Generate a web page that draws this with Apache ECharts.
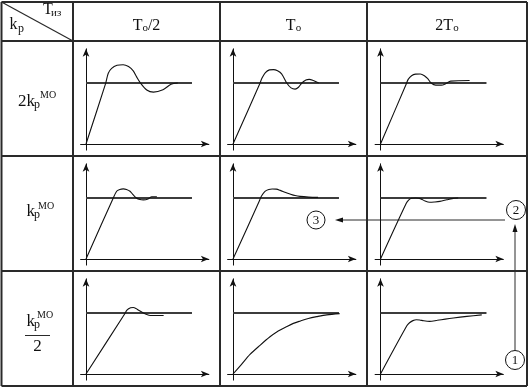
<!DOCTYPE html>
<html><head><meta charset="utf-8">
<script src="https://cdn.jsdelivr.net/npm/echarts@6/dist/echarts.min.js"></script>
<style>html,body{margin:0;padding:0;background:#fff}#c{width:531px;height:389px}</style>
</head><body><div id="c"></div>
<script>
// ---- data ----
const colHeads = [['T', 'о', '/2'], ['T', 'о', ''], ['2T', 'о', '']];
const cornerTop = ['T', 'из'];
const cornerBottom = ['k', 'p'];
const rowCoef = ['2k', 'k', 'k'];
const rowSub = 'p';
const rowSup = 'МО';
const rowDen = '2';
const setpointLevel = 1;
const setpointEnd = 7.85;
const markers = ['1', '2', '3'];

const curve_2k_Th = [[0,0],[1.45,0.99],[1.65,1.16],[1.9,1.24],[2.3,1.29],[2.75,1.3],[3.15,1.27],[3.5,1.2],[3.75,1.1],[4.0,1.01],[4.5,0.885],[5.0,0.85],[5.7,0.89],[6.3,0.98],[6.8,1.0]];
const curve_2k_T  = [[0,0],[1.95,0.97],[2.15,1.08],[2.4,1.17],[2.7,1.215],[3.0,1.22],[3.3,1.2],[3.6,1.15],[3.98,1.0],[4.3,0.92],[4.6,0.9],[4.85,0.93],[5.1,1.0],[5.4,1.05],[5.65,1.06],[5.95,1.04],[6.35,1.0]];
const curve_2k_2T = [[0,0],[1.9,0.98],[2.05,1.06],[2.3,1.12],[2.6,1.145],[2.95,1.148],[3.25,1.12],[3.5,1.07],[3.75,1.0],[4.1,0.965],[4.5,0.965],[4.85,0.99],[5.2,1.03],[6.6,1.04]];
const curve_k_Th  = [[0,0],[1.98,0.98],[2.27,1.11],[2.5,1.14],[2.76,1.15],[3.0,1.14],[3.26,1.11],[3.5,1.05],[3.73,1.0],[4.0,0.975],[4.25,0.97],[4.6,0.985],[4.87,1.02],[5.25,1.02]];
const curve_k_T   = [[0,0],[1.95,0.95],[2.1,1.03],[2.37,1.11],[2.65,1.14],[2.9,1.148],[3.2,1.145],[3.5,1.125],[3.85,1.095],[4.22,1.066],[4.6,1.04],[4.96,1.026],[5.6,1.015],[6.3,1.01]];
const curve_k_2T  = [[0,0],[1.9,0.91],[2.1,0.97],[2.3,0.995],[2.6,1.0],[2.95,0.99],[3.3,0.95],[3.65,0.93],[4.0,0.935],[4.4,0.945],[4.9,0.97],[5.3,0.99],[5.75,1.0]];
const curve_hk_Th = [[0,0],[2.85,0.98],[3.05,1.05],[3.3,1.085],[3.5,1.09],[3.7,1.075],[3.9,1.045],[4.25,1.0],[4.55,0.97],[4.75,0.96],[5.75,0.96]];
const curve_hk_T  = [[0,0],[0.6,0.15],[1.26,0.32],[2.0,0.47],[2.74,0.61],[3.24,0.69],[4.0,0.78],[4.47,0.83],[5.0,0.87],[5.58,0.91],[6.2,0.94],[6.94,0.97],[7.9,0.99]];
const curve_hk_2T = [[0,0],[1.95,0.79],[2.15,0.84],[2.4,0.875],[2.66,0.89],[2.9,0.885],[3.2,0.872],[3.64,0.863],[4.2,0.88],[4.8,0.9],[5.4,0.918],[6.4,0.945],[7.5,0.97]];

// ---- layout ----
const curves = [[curve_2k_Th, curve_2k_T, curve_2k_2T],[curve_k_Th, curve_k_T, curve_k_2T],[curve_hk_Th, curve_hk_T, curve_hk_2T]];
const colX = [1.5, 73, 220, 367, 527];
const rowY = [2, 41, 156, 271, 386];
const axisXs = [86, 233, 380.5];
const axisYs = [144, 259, 374];
const pxX = 13.5, pxY = 61, xMin = -0.4, xMax = 9.1, yMin = -0.1, yMax = 1.56;
const SERIF = '"Liberation Serif", "DejaVu Serif", serif';
const ink = '#111';

const grids = [], xAxes = [], yAxes = [], series = [];
let gi = 0;
for (let r = 0; r < 3; r++) {
  for (let c = 0; c < 3; c++) {
    const ax = axisXs[c], ay = axisYs[r];
    grids.push({left: ax + xMin * pxX, top: ay - yMax * pxY, width: (xMax - xMin) * pxX, height: (yMax - yMin) * pxY, outerBoundsMode: 'none', containLabel: false});
    const axLine = {onZero: true, symbol: ['none', 'arrow'], symbolSize: [5, 8], lineStyle: {color: ink, width: 1}};
    xAxes.push({gridIndex: gi, type: 'value', min: xMin, max: xMax, axisLine: axLine, axisTick: {show: false}, axisLabel: {show: false}, splitLine: {show: false}});
    yAxes.push({gridIndex: gi, type: 'value', min: yMin, max: yMax, axisLine: axLine, axisTick: {show: false}, axisLabel: {show: false}, splitLine: {show: false}});
    series.push({type: 'line', xAxisIndex: gi, yAxisIndex: gi, data: [[0, setpointLevel], [setpointEnd, setpointLevel]], symbol: 'none', silent: true, lineStyle: {color: '#3c3c3c', width: 2}});
    series.push({type: 'line', xAxisIndex: gi, yAxisIndex: gi, data: curves[r][c], symbol: 'none', smooth: 0.3, silent: true, lineStyle: {color: ink, width: 1.1}});
    gi++;
  }
}

const graphic = [];
const lineColor = '#2a2a2a';
function ln(x1, y1, x2, y2, w) {
  graphic.push({type: 'line', shape: {x1, y1, x2, y2}, style: {stroke: lineColor, lineWidth: w || 2}, silent: true});
}
function tx(x, y, s, size, align) {
  graphic.push({type: 'text', x, y, silent: true, style: {text: s, font: size + 'px ' + SERIF, fontSize: size, fontFamily: SERIF, fill: ink, align: align || 'left', textAlign: align || 'left', verticalAlign: 'middle', textVerticalAlign: 'middle'}});
}
// table
colX.forEach(x => ln(x, rowY[0], x, rowY[4]));
rowY.forEach(y => ln(colX[0], y, colX[4], y));
ln(colX[0], rowY[0], colX[1], rowY[1], 1.2);
// corner
tx(43, 10, cornerTop[0], 16); tx(51, 13.5, cornerTop[1], 11);
tx(9.5, 25, cornerBottom[0], 16); tx(18, 28.5, cornerBottom[1], 12);
// column headers
colHeads.forEach((h, c) => {
  const cx = (colX[c + 1] + colX[c + 2]) / 2;
  graphic.push({type: 'text', x: cx, y: 24, silent: true, style: {
    text: '{b|' + h[0] + '}{s|' + h[1] + '}' + (h[2] ? '{b|' + h[2] + '}' : ''),
    align: 'center', textAlign: 'center', verticalAlign: 'middle', textVerticalAlign: 'middle',
    rich: {b: {fontSize: 16, fontFamily: SERIF, fill: ink, color: ink, lineHeight: 20, verticalAlign: 'bottom'},
           s: {fontSize: 11, fontFamily: SERIF, fill: ink, color: ink, lineHeight: 12, verticalAlign: 'bottom'}}
  }});
});
// row labels
tx(18, 102, rowCoef[0], 17); tx(34, 104.5, rowSub, 12); tx(40, 95, rowSup, 10);
tx(26.5, 212, rowCoef[1], 17); tx(34, 215, rowSub, 12); tx(38, 206.5, rowSup, 10);
tx(26.5, 322, rowCoef[2], 17); tx(34, 325, rowSub, 12); tx(37, 315, rowSup, 10);
ln(25, 335.5, 50, 335.5, 1);
tx(37.5, 347, rowDen, 17, 'center');
// markers and arrows
function circ(cx, cy, r, s) {
  graphic.push({type: 'circle', shape: {cx, cy, r}, style: {stroke: ink, fill: '#fff', lineWidth: 1}, silent: true, z: 10});
  graphic.push({type: 'text', x: cx, y: cy + 0.5, silent: true, z: 11, style: {text: s, font: '13px ' + SERIF, fontSize: 13, fontFamily: SERIF, fill: ink, align: 'center', textAlign: 'center', verticalAlign: 'middle', textVerticalAlign: 'middle'}});
}
ln(342, 220, 505, 220, 1);
graphic.push({type: 'polygon', shape: {points: [[335, 220], [343, 217.5], [343, 222.5]]}, style: {fill: ink}, silent: true});
ln(515, 231, 515, 350, 1);
graphic.push({type: 'polygon', shape: {points: [[515, 224], [512.5, 232], [517.5, 232]]}, style: {fill: ink}, silent: true});
circ(515, 360, 9.5, markers[0]);
circ(516, 210, 9.5, markers[1]);
circ(316, 220, 9, markers[2]);

const chart = echarts.init(document.getElementById('c'), null, {renderer: 'canvas'});
chart.setOption({animation: false, backgroundColor: '#fff', grid: grids, xAxis: xAxes, yAxis: yAxes, series, graphic});
</script>
</body></html>
